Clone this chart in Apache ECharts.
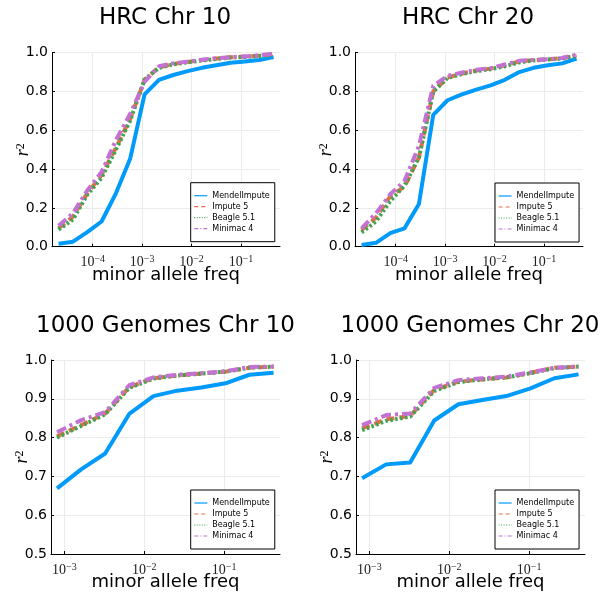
<!DOCTYPE html>
<html><head><meta charset="utf-8">
<script src="https://cdn.jsdelivr.net/npm/echarts@6/dist/echarts.min.js"></script>
<style>html,body{margin:0;padding:0;background:#fff}#c{width:609px;height:598px}</style>
</head><body><div id="c"></div>
<script>
// ---------- data ----------
const methods = ['MendelImpute', 'Impute 5', 'Beagle 5.1', 'Minimac 4'];
const panelTitles = ['HRC Chr 10', 'HRC Chr 20', '1000 Genomes Chr 10', '1000 Genomes Chr 20'];
const xAxisTitle = 'minor allele freq';

const hrcMaf = [2.04e-5, 3.98e-5, 7.76e-5, 1.51e-4, 2.95e-4, 5.75e-4, 1.12e-3, 2.19e-3, 4.27e-3, 8.32e-3, 0.0162, 0.0316, 0.0617, 0.120, 0.234, 0.457];
const kgMaf = [8.1e-4, 1.62e-3, 3.24e-3, 6.48e-3, 0.013, 0.0259, 0.0518, 0.104, 0.207, 0.415];

const hrc10Mendel  = [0.015, 0.026, 0.075, 0.13, 0.275, 0.455, 0.785, 0.86, 0.885, 0.905, 0.922, 0.935, 0.948, 0.955, 0.962, 0.978];
const hrc10Impute  = [0.095, 0.155, 0.275, 0.37, 0.51, 0.66, 0.86, 0.925, 0.942, 0.952, 0.962, 0.97, 0.976, 0.98, 0.985, 0.993];
const hrc10Beagle  = [0.088, 0.14, 0.268, 0.355, 0.50, 0.65, 0.862, 0.922, 0.94, 0.95, 0.96, 0.968, 0.975, 0.978, 0.983, 0.99];
const hrc10Minimac = [0.108, 0.172, 0.29, 0.385, 0.55, 0.685, 0.85, 0.93, 0.945, 0.954, 0.964, 0.972, 0.977, 0.981, 0.986, 0.995];

const hrc20Mendel  = [0.009, 0.02, 0.07, 0.095, 0.22, 0.68, 0.755, 0.785, 0.81, 0.832, 0.86, 0.9, 0.922, 0.935, 0.945, 0.97];
const hrc20Impute  = [0.086, 0.15, 0.26, 0.31, 0.46, 0.80, 0.872, 0.893, 0.908, 0.918, 0.935, 0.955, 0.962, 0.966, 0.972, 0.985];
const hrc20Beagle  = [0.074, 0.13, 0.235, 0.315, 0.46, 0.80, 0.87, 0.89, 0.905, 0.915, 0.93, 0.95, 0.96, 0.965, 0.97, 0.983];
const hrc20Minimac = [0.095, 0.172, 0.27, 0.34, 0.52, 0.83, 0.88, 0.898, 0.912, 0.92, 0.94, 0.958, 0.963, 0.966, 0.973, 0.99];

const kg10Mendel  = [0.669, 0.718, 0.759, 0.861, 0.907, 0.921, 0.929, 0.94, 0.962, 0.967];
const kg10Impute  = [0.803, 0.832, 0.862, 0.93, 0.953, 0.96, 0.965, 0.97, 0.98, 0.983];
const kg10Beagle  = [0.80, 0.83, 0.86, 0.928, 0.952, 0.96, 0.965, 0.97, 0.98, 0.983];
const kg10Minimac = [0.814, 0.845, 0.866, 0.935, 0.955, 0.962, 0.966, 0.971, 0.982, 0.983];

const kg20Mendel  = [0.695, 0.731, 0.736, 0.844, 0.886, 0.897, 0.907, 0.927, 0.953, 0.963];
const kg20Impute  = [0.824, 0.847, 0.856, 0.923, 0.944, 0.95, 0.955, 0.967, 0.98, 0.983];
const kg20Beagle  = [0.819, 0.843, 0.854, 0.92, 0.943, 0.95, 0.955, 0.966, 0.979, 0.983];
const kg20Minimac = [0.832, 0.858, 0.862, 0.928, 0.948, 0.953, 0.957, 0.968, 0.98, 0.983];

const hrcXTicks = [1e-4, 1e-3, 1e-2, 1e-1];
const kgXTicks = [1e-3, 1e-2, 1e-1];

// ---------- layout / style ----------
const colors = ['#009AFA', '#E36F47', '#3EA44E', '#C371D2'];
const dashes = ['solid', [8, 5], [2.5, 2.5], [10, 4, 3, 4]];
const legendDashes = ['solid', [4, 3], [1, 1.5], [4, 2, 1, 2]];
const panels = [
  {x: hrcMaf, ys: [hrc10Mendel, hrc10Impute, hrc10Beagle, hrc10Minimac], ticks: hrcXTicks, xmin: 1.5e-5, xmax: 0.617, ymin: 0, ymax: 1, yint: 0.2,
   grid: {left: 52, top: 52.7, width: 228, height: 194}, legend: {left: 190.7, top: 182.7}},
  {x: hrcMaf, ys: [hrc20Mendel, hrc20Impute, hrc20Beagle, hrc20Minimac], ticks: hrcXTicks, xmin: 1.5e-5, xmax: 0.617, ymin: 0, ymax: 1, yint: 0.2,
   grid: {left: 355, top: 52.7, width: 228, height: 194}, legend: {left: 495, top: 183}},
  {x: kgMaf, ys: [kg10Mendel, kg10Impute, kg10Beagle, kg10Minimac], ticks: kgXTicks, xmin: 6.8e-4, xmax: 0.5, ymin: 0.5, ymax: 1, yint: 0.1,
   grid: {left: 51, top: 360, width: 229, height: 194}, legend: {left: 190.7, top: 490}},
  {x: kgMaf, ys: [kg20Mendel, kg20Impute, kg20Beagle, kg20Minimac], ticks: kgXTicks, xmin: 6.8e-4, xmax: 0.5, ymin: 0.5, ymax: 1, yint: 0.1,
   grid: {left: 356, top: 360, width: 229, height: 194}, legend: {left: 495, top: 490}}
];

const SANS = 'DejaVu Sans';
const SERIF = 'Liberation Serif';

function expLabel(v) {
  const e = Math.round(Math.log10(v));
  return '{b|10}{s|' + (e < 0 ? '\u2212' + (-e) : e) + '}';
}

const grid = [], xAxis = [], yAxis = [], series = [], legend = [], graphic = [];
panels.forEach((p, i) => {
  grid.push(Object.assign({containLabel: false}, p.grid));
  xAxis.push({
    type: 'log', logBase: 10, gridIndex: i, min: p.xmin, max: p.xmax,
    axisLine: {show: true, onZero: false, lineStyle: {color: '#000', width: 1}},
    axisTick: {show: true, inside: true, length: 3, customValues: p.ticks, lineStyle: {color: '#000'}},
    axisLabel: {
      customValues: p.ticks, margin: 8, formatter: expLabel, color: '#000',
      rich: {
        b: {fontFamily: SERIF, fontSize: 14, lineHeight: 16, color: '#222'},
        s: {fontFamily: SERIF, fontSize: 10, lineHeight: 10, verticalAlign: 'top', color: '#222'}
      }
    },
    splitLine: {show: true, lineStyle: {color: '#ebebeb', width: 1}}
  });
  yAxis.push({
    type: 'value', gridIndex: i, min: p.ymin, max: p.ymax, interval: p.yint,
    axisLine: {show: true, lineStyle: {color: '#000', width: 1}},
    axisTick: {show: true, inside: true, length: 3, lineStyle: {color: '#000'}},
    axisLabel: {margin: 4, color: '#000', fontFamily: SANS, fontSize: 14, formatter: v => v.toFixed(1)},
    splitLine: {show: true, lineStyle: {color: '#ebebeb', width: 1}}
  });
  methods.forEach((m, k) => {
    series.push({
      type: 'line', name: m, xAxisIndex: i, yAxisIndex: i, symbol: 'none', showSymbol: false,
      data: p.x.map((x, j) => [x, p.ys[k][j]]),
      itemStyle: {color: colors[k]},
      lineStyle: {color: colors[k], width: 4, type: dashes[k], join: 'round', cap: 'butt'},
      z: 2 + k
    });
  });
  legend.push({
    orient: 'vertical', left: p.legend.left, top: p.legend.top,
    padding: [9, 5, 9, 3], itemWidth: 13, itemHeight: 8, itemGap: 3,
    backgroundColor: '#fff', borderColor: '#000', borderWidth: 1, borderRadius: 0,
    selectedMode: false,
    textStyle: {fontFamily: SANS, fontSize: 8, color: '#000', lineHeight: 8},
    data: methods.map((m, k) => ({
      name: m,
      itemStyle: {color: 'rgba(0,0,0,0)', borderColor: 'rgba(0,0,0,0)', borderWidth: 0, opacity: 0},
      lineStyle: {width: 1.2, type: legendDashes[k], color: colors[k], opacity: 1}
    }))
  });
  const cx = p.grid.left + p.grid.width / 2;
  const titleCx = [165, 468, 165.5, 470][i];
  graphic.push({type: 'text', x: titleCx, y: p.grid.top - 34.3, style: {text: panelTitles[i], font: '23px "' + SANS + '"', fill: '#000', align: 'center', verticalAlign: 'middle'}});
  graphic.push({type: 'text', x: cx, y: p.grid.top + p.grid.height + 28.8, style: {text: xAxisTitle, font: '18px "' + SANS + '"', fill: '#000', align: 'center', verticalAlign: 'middle'}});
  graphic.push({type: 'text', x: p.grid.left - 28.5, y: p.grid.top + p.grid.height / 2, rotation: Math.PI / 2,
    style: {text: '{i|r}{s|2}', align: 'center', verticalAlign: 'middle', fill: '#000',
      rich: {i: {fontFamily: SERIF, fontStyle: 'italic', fontSize: 18, lineHeight: 18, fill: '#000'},
             s: {fontFamily: SERIF, fontSize: 12, lineHeight: 11, verticalAlign: 'top', fill: '#000'}}}});
});

const chart = echarts.init(document.getElementById('c'), null, {renderer: 'canvas'});
chart.setOption({
  animation: false,
  backgroundColor: '#fff',
  grid, xAxis, yAxis, series, legend, graphic
});
</script></body></html>
